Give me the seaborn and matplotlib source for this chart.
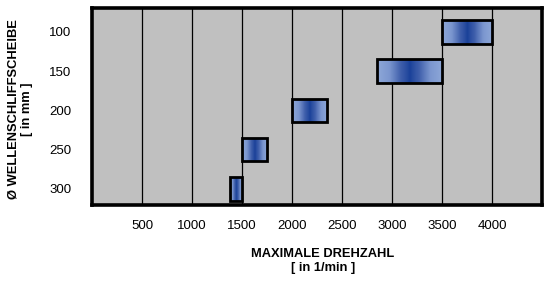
import numpy as np
import matplotlib
matplotlib.use("Agg")
import matplotlib.pyplot as plt
from matplotlib.colors import LinearSegmentedColormap
import seaborn as sns

# ---- data ----
diameters = [100, 150, 200, 250, 300]          # Ø Wellenschliffscheibe [mm]
speed_min = [3500, 2850, 2000, 1500, 1375]       # min. Drehzahl [1/min]
speed_max = [4000, 3500, 2350, 1750, 1500]       # max. Drehzahl [1/min]
xticks = [500, 1000, 1500, 2000, 2500, 3000, 3500, 4000]
yticks = [100, 150, 200, 250, 300]

sns.set_theme(style="white")
plt.rcParams['font.family'] = ['Liberation Sans', 'DejaVu Sans']

fig = plt.figure(figsize=(5.49, 2.83), dpi=100)
ax = fig.add_axes([0.1675, 0.277, 0.82, 0.695])
ax.set_facecolor('#c0c0c0')

for x in xticks:
    ax.axvline(x, color='black', lw=0.9, zorder=1)

cmap = LinearSegmentedColormap.from_list('bl', ['#1a4199', '#3f5fab', '#7b96cf', '#8ea8d8'])
prof = np.abs(np.linspace(-1, 1, 256)) ** 0.85
grad = prof[np.newaxis, :]

bar_h = 30
bars = ax.barh(diameters, [b - a for a, b in zip(speed_min, speed_max)], left=speed_min,
               height=bar_h, facecolor='none', edgecolor='black', linewidth=2.0, zorder=4)
for rect, a, b, d in zip(bars, speed_min, speed_max, diameters):
    im = ax.imshow(grad, cmap=cmap, aspect='auto', interpolation='bilinear',
                   extent=(a, b, d + bar_h / 2, d - bar_h / 2), zorder=3)
    im.set_clip_path(rect)
ax.set_xlim(0, 4500)
ax.set_ylim(320, 69.5)

ax.set_xticks(xticks)
ax.set_yticks(yticks)
ax.tick_params(axis='both', length=0, labelsize=9.5, colors='black', labelcolor='black')
ax.tick_params(axis='x', pad=11)
ax.tick_params(axis='y', pad=15)

for s in ax.spines.values():
    s.set_visible(True)
    s.set_color('black')
    s.set_linewidth(2.6)

ax.set_xlabel('MAXIMALE DREHZAHL\n[ in 1/min ]', fontsize=9.3, fontweight='bold',
              linespacing=1.2, va='top', ha='center', color='black')
ax.xaxis.set_label_coords(0.513, -0.222)
ax.set_ylabel('Ø WELLENSCHLIFFSCHEIBE\n[ in mm ]', fontsize=9.3, fontweight='bold',
              linespacing=1.2, color='black')
ax.yaxis.set_label_coords(-0.13, 0.485)

fig.savefig('out.png', dpi=100, facecolor='white')
